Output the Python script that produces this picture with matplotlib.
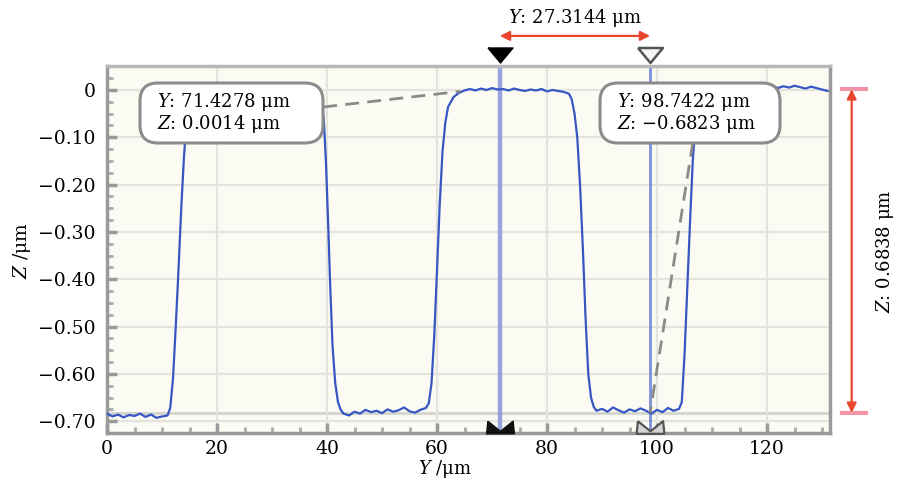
import matplotlib
matplotlib.use('Agg')
import matplotlib.pyplot as plt
from matplotlib.patches import FancyBboxPatch
from matplotlib.path import Path
import matplotlib.transforms as mtransforms

plt.rcParams['font.family'] = ['DejaVu Serif', 'DejaVu Sans']
plt.rcParams['mathtext.fontset'] = 'dejavuserif'

# ---- profile data (Y in um, Z in um) ----
y_pos = [0, 1, 2, 3, 4, 5, 6, 7, 8, 9, 10, 11,
         11.5, 12, 12.5, 13, 13.5, 14, 14.5, 15, 16,
         18, 20, 22, 24, 26, 28, 30, 32, 34, 36, 38,
         38.5, 39, 39.4, 39.8, 40.2, 40.6, 41, 41.5, 42, 42.5, 43,
         44, 45, 46, 47, 48, 49, 50, 51, 52, 53, 54, 55, 56, 57, 58,
         58.5, 59, 59.5, 60, 60.5, 61, 61.5, 62, 63, 64, 65,
         66, 67, 68, 69, 70, 71, 72, 73, 74, 75, 76, 77, 78, 79, 80, 81, 82, 83,
         84, 84.5, 85, 85.5, 86, 86.5, 87, 87.5, 88, 88.5, 89,
         90, 91, 92, 93, 94, 95, 96, 97, 98, 99, 100, 101, 102, 103, 104,
         104.5, 105, 105.5, 106, 106.5, 107, 107.5, 108,
         110, 112, 114, 116, 117, 118, 119, 120, 121, 122, 123, 124, 125,
         126, 127, 128, 129, 130, 131]
z_val = [-0.684, -0.690, -0.686, -0.692, -0.687, -0.689, -0.684, -0.691, -0.686, -0.693, -0.690, -0.688,
         -0.672, -0.610, -0.500, -0.380, -0.250, -0.140, -0.060, -0.020, -0.006,
         -0.002, 0.001, -0.003, 0.002, -0.001, 0.001, -0.002, 0.000, 0.002, -0.003, -0.004,
         -0.008, -0.025, -0.060, -0.150, -0.280, -0.420, -0.540, -0.620, -0.660, -0.676, -0.684,
         -0.688, -0.680, -0.684, -0.676, -0.681, -0.678, -0.683, -0.675, -0.680, -0.677, -0.671, -0.679, -0.682, -0.676, -0.672,
         -0.662, -0.620, -0.520, -0.380, -0.240, -0.130, -0.070, -0.036, -0.015, -0.006, -0.001,
         0.002, -0.001, 0.003, 0.000, 0.004, 0.001, 0.002, -0.001, 0.003, 0.000, -0.002, 0.001, -0.001, 0.002, -0.003, 0.000, -0.002, -0.004,
         -0.008, -0.020, -0.050, -0.100, -0.200, -0.330, -0.480, -0.600, -0.650, -0.670, -0.678,
         -0.674, -0.680, -0.671, -0.677, -0.682, -0.675, -0.679, -0.673, -0.678, -0.684, -0.676, -0.681, -0.672, -0.678, -0.674,
         -0.660, -0.560, -0.420, -0.280, -0.150, -0.070, -0.030, -0.012,
         -0.002, 0.003, 0.006, 0.008, 0.010, 0.007, 0.011, 0.006, 0.009, 0.004, 0.008, 0.005, 0.009,
         0.006, 0.003, 0.007, 0.004, 0.001, -0.002]

cursor_y = [71.4278, 98.7422]
cursor_z = [0.0014, -0.6823]
delta_y = 27.3144
delta_z = 0.6838

x_ticks = [0, 20, 40, 60, 80, 100, 120]
z_ticks = [0, -0.10, -0.20, -0.30, -0.40, -0.50, -0.60, -0.70]
z_tick_labels = ['0', '\u22120.10', '\u22120.20', '\u22120.30', '\u22120.40',
                 '\u22120.50', '\u22120.60', '\u22120.70']

W, H = 899, 482
fig = plt.figure(figsize=(W / 100, H / 100), dpi=100)
ax_l, ax_r, ax_t, ax_b = 107, 830, 66, 433
ax = fig.add_axes([ax_l / W, 1 - ax_b / H, (ax_r - ax_l) / W, (ax_b - ax_t) / H])
ax.set_facecolor('#fbfbf3')
ax.set_xlim(0, 131.45)
ax.set_ylim(-0.725, 0.0507)

ax.set_xticks(x_ticks)
ax.set_yticks(z_ticks)
ax.set_yticklabels(z_tick_labels)
ax.set_xticks([v for v in range(0, 135, 5)], minor=True)
ax.set_yticks([-0.725 + 0.025 * i for i in range(31)], minor=True)
ax.tick_params(which='major', direction='in', length=7, width=2.5, color='#9a9a9a',
               labelsize=13.5, labelcolor='black')
ax.tick_params(axis='x', which='major', pad=5)
ax.tick_params(axis='y', which='major', pad=8)
ax.tick_params(which='minor', direction='in', length=4, width=2, color='#a8a8a8')
ax.tick_params(axis='y', which='both', left=True, right=False)
ax.tick_params(axis='x', which='both', bottom=True, top=False)
ax.grid(True, which='major', color='#e4e4de', lw=1.6, zorder=0)
for s in ax.spines.values():
    s.set_color('#9a9a9a')
    s.set_linewidth(2.5)
ax.spines['top'].set_color('#b8b8b8')

# horizontal cursor reference line
ax.axhline(cursor_z[1], color='#d6d6d0', lw=2.2, zorder=1)

# vertical cursor lines
ax.axvline(cursor_y[0], color='#8796d8', lw=3.2, alpha=0.85, zorder=2)
ax.axvline(cursor_y[1], color='#6f84d6', lw=2.0, alpha=0.9, zorder=2)

# profile
ax.plot(y_pos, z_val, color='#3656c4', lw=1.6, zorder=3)

# dashed leader lines
ax.plot([39.3, 64.2], [-0.036, -0.003], ls=(0, (5, 3)), color='#8a8a8a', lw=2, zorder=4)
ax.plot([106.5, cursor_y[1]], [-0.112, cursor_z[1]], ls=(0, (5, 3)), color='#8a8a8a', lw=2, zorder=4)

# callout boxes
aspect = (ax_r - ax_l) / (ax_b - ax_t)
def callout(x0, x1, text_x, lines):
    y0 = (ax_b - 143) / (ax_b - ax_t)
    y1 = (ax_b - 83) / (ax_b - ax_t)
    p = FancyBboxPatch((x0, y0), x1 - x0, y1 - y0,
                       boxstyle='round,pad=0,rounding_size=0.025',
                       mutation_aspect=aspect,
                       transform=ax.transAxes, facecolor='white',
                       edgecolor='#8c8c8c', lw=2.2, zorder=5, clip_on=False)
    ax.add_patch(p)
    ax.text(text_x, (y0 + y1) / 2, lines, transform=ax.transAxes, ha='left',
            va='center', fontsize=13, linespacing=1.0, zorder=6)

fx = lambda px: (px - ax_l) / (ax_r - ax_l)
callout(fx(140), fx(323), fx(157),
        '$Y$: %.4f \u03bcm\n$Z$: %.4f \u03bcm' % (cursor_y[0], cursor_z[0]))
callout(fx(600), fx(780), fx(617),
        '$Y$: %.4f \u03bcm\n$Z$: \u2212%.4f \u03bcm' % (cursor_y[1], -cursor_z[1]))

# cursor markers
blend = mtransforms.blended_transform_factory(ax.transData, ax.transAxes)
tri = Path([(-1, 0.6), (1, 0.6), (0, -0.6), (-1, 0.6)])
ax.plot([cursor_y[0]], [1.03], marker=tri, ms=18, color='black', mec='black',
        transform=blend, clip_on=False, zorder=7)
ax.plot([cursor_y[1]], [1.03], marker=tri, ms=18, mfc='#f6f6f6', mec='#555555', mew=1.8,
        transform=blend, clip_on=False, zorder=7)
bow = Path([(-1, 0.5), (0, -0.3), (1, 0.5), (1.1, -0.5), (-1.1, -0.5), (-1, 0.5)])
ax.plot([cursor_y[0]], [0.016], marker=bow, ms=20, color='#111111', mec='#111111',
        transform=blend, clip_on=False, zorder=7)
ax.plot([cursor_y[1]], [0.016], marker=bow, ms=20, mfc='#d4d4d4', mec='#555555', mew=1.6,
        transform=blend, clip_on=False, zorder=7)

# horizontal distance arrow
red = '#e8452c'
ax.annotate('', xy=(cursor_y[1], 1.082), xytext=(cursor_y[0], 1.082),
            xycoords=blend, textcoords=blend,
            arrowprops=dict(arrowstyle='<|-|>', color=red, lw=1.6,
                            mutation_scale=14, shrinkA=0, shrinkB=0))
ax.text((cursor_y[0] + cursor_y[1]) / 2, 1.131, '$Y$: %.4f \u03bcm' % delta_y,
        transform=blend, ha='center', va='center', fontsize=13)

# vertical height arrow
blend2 = mtransforms.blended_transform_factory(ax.transAxes, ax.transData)
z_top = cursor_z[1] + delta_z
ax.annotate('', xy=(1.030, z_top), xytext=(1.030, cursor_z[1]),
            xycoords=blend2, textcoords=blend2,
            arrowprops=dict(arrowstyle='<|-|>', color=red, lw=1.6,
                            mutation_scale=14, shrinkA=0, shrinkB=0))
for zz in (z_top, cursor_z[1]):
    ax.plot([1.017, 1.050], [zz, zz], color='#f08a9c', lw=3, alpha=0.9,
            transform=blend2, clip_on=False)
ax.text(1.076, (z_top + cursor_z[1]) / 2, '$Z$: %.4f \u03bcm' % delta_z,
        transform=blend2, rotation=90, ha='center', va='center', fontsize=13)

# axis labels
fig.text(22 / W, 1 - 250 / H, '$Z$ /\u03bcm', rotation=90, ha='center', va='center', fontsize=13.5)
fig.text(445 / W, 1 - 469 / H, '$Y$ /\u03bcm', ha='center', va='center', fontsize=13)

fig.savefig('out.png', dpi=100)
